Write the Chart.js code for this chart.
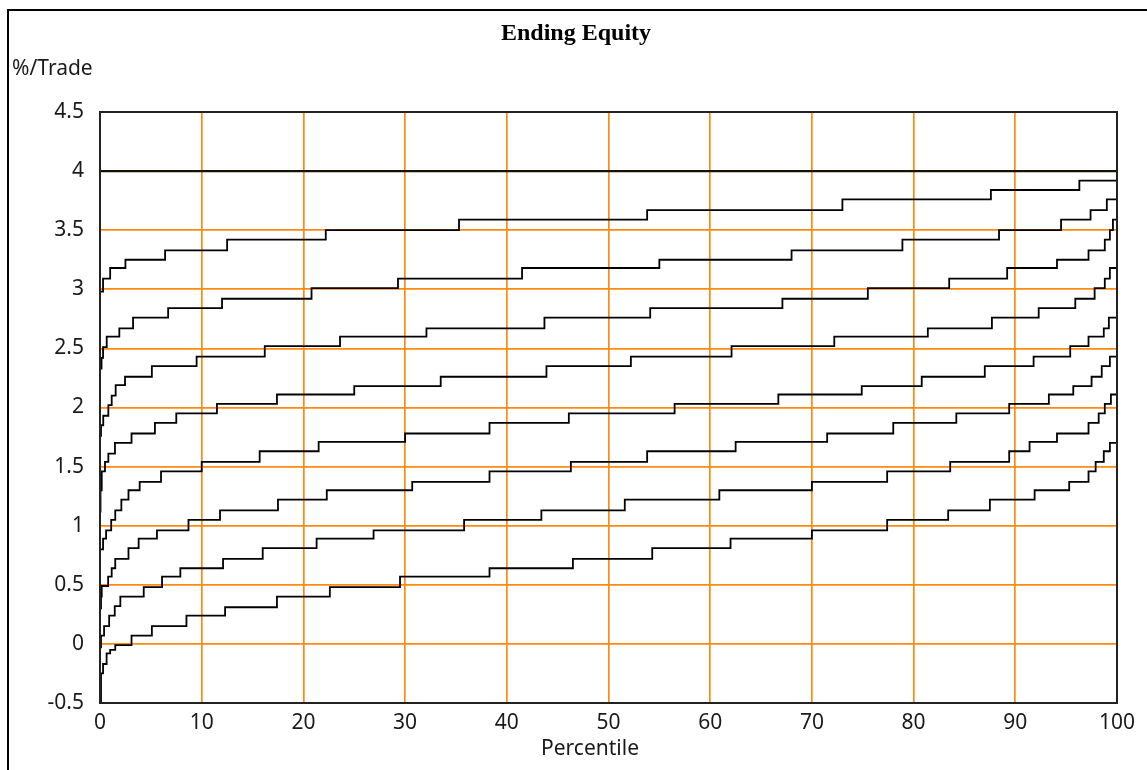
<!DOCTYPE html>
<html>
<head>
<meta charset="utf-8">
<title>Ending Equity</title>
<script src="https://cdn.jsdelivr.net/npm/chart.js@4.4.1/dist/chart.umd.min.js"></script>
<style>
  html, body { margin: 0; padding: 0; background: #ffffff; }
  #wrap { position: relative; width: 1147px; height: 770px; }
</style>
</head>
<body>
<div id="wrap"><canvas id="equityChart" width="1147" height="770"></canvas></div>
<script>
const xTicks = [0, 10, 20, 30, 40, 50, 60, 70, 80, 90, 100];
const yTicks = [-0.5, 0, 0.5, 1, 1.5, 2, 2.5, 3, 3.5, 4, 4.5];

// each curve: percentile where a level starts, and the level (%/trade)
const c1Pct = [0, 0.3, 1.0, 2.5, 6.4, 12.5, 22.2, 35.3, 53.8, 73.0, 87.6, 96.3, 100];
const c1Val = [2.98, 3.09, 3.18, 3.25, 3.33, 3.42, 3.50, 3.59, 3.67, 3.76, 3.84, 3.92, 3.92];

const c2Pct = [0, 0.15, 0.3, 0.66, 1.9, 3.25, 6.7, 12.0, 20.8, 29.3, 41.5, 55.0, 68.0, 78.9, 88.4, 94.5, 97.4, 99.0, 100];
const c2Val = [2.33, 2.42, 2.51, 2.60, 2.67, 2.76, 2.84, 2.92, 3.01, 3.09, 3.18, 3.25, 3.33, 3.42, 3.50, 3.59, 3.67, 3.76, 3.76];

const c3Pct = [0, 0.1, 0.32, 0.82, 1.15, 1.54, 2.46, 5.1, 9.5, 16.2, 23.6, 32.1, 43.7, 54.1, 67.1, 75.5, 83.5, 89.2, 94.1, 97.2, 98.8, 99.3, 99.6, 100];
const c3Val = [1.76, 1.85, 1.93, 2.02, 2.10, 2.19, 2.26, 2.35, 2.43, 2.52, 2.60, 2.67, 2.76, 2.84, 2.92, 3.01, 3.09, 3.18, 3.25, 3.33, 3.42, 3.50, 3.59, 3.63];

const c4Pct = [0, 0.05, 0.17, 0.49, 0.82, 1.47, 3.1, 5.4, 7.5, 11.5, 17.4, 25.0, 33.5, 43.9, 52.2, 62.1, 72.2, 81.4, 87.7, 92.3, 95.9, 97.8, 98.8, 99.3, 100];
const c4Val = [1.12, 1.30, 1.46, 1.54, 1.61, 1.70, 1.78, 1.87, 1.95, 2.03, 2.11, 2.18, 2.26, 2.35, 2.43, 2.52, 2.60, 2.67, 2.76, 2.84, 2.92, 3.01, 3.09, 3.18, 3.22];

const c5Pct = [0, 0.3, 0.6, 1.1, 1.5, 2.1, 2.8, 3.9, 6.0, 10.0, 15.7, 21.5, 30.0, 38.3, 46.1, 56.5, 66.7, 74.9, 80.8, 87.0, 91.8, 95.4, 97.2, 98.7, 99.2, 100];
const c5Val = [0.80, 0.89, 0.96, 1.05, 1.13, 1.22, 1.30, 1.37, 1.46, 1.54, 1.63, 1.71, 1.78, 1.87, 1.95, 2.03, 2.11, 2.18, 2.26, 2.35, 2.43, 2.52, 2.60, 2.67, 2.76, 2.80];

const c6Pct = [0, 0.1, 0.17, 0.8, 1.15, 1.5, 2.8, 3.8, 5.6, 8.7, 11.8, 17.5, 22.3, 30.7, 38.3, 46.3, 53.8, 62.5, 71.5, 78.0, 84.2, 89.4, 93.3, 95.7, 97.5, 98.5, 99.3, 100];
const c6Val = [0.30, 0.40, 0.49, 0.57, 0.64, 0.72, 0.81, 0.89, 0.96, 1.05, 1.13, 1.22, 1.30, 1.37, 1.46, 1.54, 1.63, 1.71, 1.78, 1.87, 1.95, 2.03, 2.11, 2.18, 2.26, 2.35, 2.43, 2.52];

const c7Pct = [0, 0.1, 0.4, 0.9, 1.45, 2.0, 4.3, 6.1, 7.9, 12.1, 16.0, 21.3, 26.9, 35.8, 43.4, 51.6, 60.9, 70.0, 77.4, 83.6, 89.4, 91.4, 94.1, 97.2, 98.2, 98.8, 99.4, 100];
const c7Val = [-0.03, 0.07, 0.15, 0.24, 0.32, 0.40, 0.48, 0.57, 0.64, 0.72, 0.81, 0.89, 0.96, 1.05, 1.13, 1.22, 1.30, 1.37, 1.46, 1.54, 1.63, 1.71, 1.78, 1.87, 1.95, 2.03, 2.11, 2.13];

const c8Pct = [0, 0.1, 0.3, 0.65, 1.0, 1.5, 3.1, 5.1, 8.5, 12.3, 17.4, 22.6, 29.5, 38.3, 46.5, 54.3, 62.0, 70.0, 77.4, 83.4, 87.5, 91.9, 95.3, 97.2, 97.9, 98.7, 99.3, 100];
const c8Val = [-0.50, -0.25, -0.17, -0.08, -0.05, -0.01, 0.07, 0.15, 0.24, 0.31, 0.40, 0.48, 0.57, 0.64, 0.72, 0.81, 0.89, 0.96, 1.05, 1.13, 1.22, 1.30, 1.37, 1.46, 1.54, 1.63, 1.70, 1.72];

const refPct = [0, 100];
const refVal = [4, 4];

const tickFont = { family: "'Noto Sans', sans-serif", size: 21 };

function toPoints(pcts, vals) {
  return pcts.map(function (p, i) {
    return { x: p, y: vals[i] };
  });
}

function stepSet(pcts, vals) {
  return {
    data: toPoints(pcts, vals),
    borderColor: "#000000",
    borderWidth: 1.8,
    stepped: "before",
    pointRadius: 0,
    fill: false
  };
}

// frame, plot border, title and the free-standing labels
const decorPlugin = {
  id: "decor",
  afterDraw: function (chart) {
    const ctx = chart.ctx;
    const area = chart.chartArea;
    ctx.save();

    ctx.strokeStyle = "#000000";
    ctx.lineWidth = 2;
    ctx.beginPath();
    ctx.moveTo(8, 770);
    ctx.lineTo(8, 10);
    ctx.lineTo(1147, 10);
    ctx.stroke();

    ctx.strokeStyle = "#222222";
    ctx.lineWidth = 2;
    ctx.strokeRect(area.left, area.top, area.right - area.left, area.bottom - area.top);

    ctx.fillStyle = "#000000";
    ctx.font = "bold 24px 'Liberation Serif', 'Times New Roman', serif";
    ctx.textAlign = "center";
    ctx.textBaseline = "alphabetic";
    ctx.fillText("Ending Equity", 576, 40);

    ctx.fillStyle = "#1a1a1a";
    ctx.font = "21px 'Noto Sans', sans-serif";
    ctx.textAlign = "left";
    ctx.fillText("%/Trade", 12, 75);
    ctx.textAlign = "center";
    ctx.fillText("Percentile", 590, 755);
    ctx.restore();
  }
};

const datasets = [
  stepSet(c1Pct, c1Val),
  stepSet(c2Pct, c2Val),
  stepSet(c3Pct, c3Val),
  stepSet(c4Pct, c4Val),
  stepSet(c5Pct, c5Val),
  stepSet(c6Pct, c6Val),
  stepSet(c7Pct, c7Val),
  stepSet(c8Pct, c8Val),
  {
    data: toPoints(refPct, refVal),
    borderColor: "#1a1000",
    borderWidth: 2.2,
    pointRadius: 0,
    fill: false
  }
];

const equityChart = new Chart(document.getElementById("equityChart"), {
  type: "line",
  data: { datasets: datasets },
  plugins: [decorPlugin],
  options: {
    responsive: false,
    animation: false,
    layout: { padding: { top: 112, right: 30, bottom: 0, left: 0 } },
    plugins: {
      legend: { display: false },
      tooltip: { enabled: false },
      title: { display: false }
    },
    scales: {
      x: {
        type: "linear",
        min: 0,
        max: 100,
        afterBuildTicks: function (scale) {
          scale.ticks = xTicks.map(function (v) { return { value: v }; });
        },
        afterFit: function (scale) { scale.height = 67; },
        grid: { color: "#ff8a12", lineWidth: 1.7, drawTicks: false },
        border: { display: false },
        ticks: { color: "#1a1a1a", font: tickFont, padding: 7, maxRotation: 0 }
      },
      y: {
        type: "linear",
        min: -0.5,
        max: 4.5,
        afterBuildTicks: function (scale) {
          scale.ticks = yTicks.map(function (v) { return { value: v }; });
        },
        afterFit: function (scale) { scale.width = 100; },
        grid: { color: "#ff8a12", lineWidth: 1.7, drawTicks: false },
        border: { display: false },
        ticks: {
          color: "#1a1a1a",
          font: tickFont,
          padding: 16,
          callback: function (v) { return String(Number(v.toFixed(1))); }
        }
      }
    }
  }
});
</script>
</body>
</html>
